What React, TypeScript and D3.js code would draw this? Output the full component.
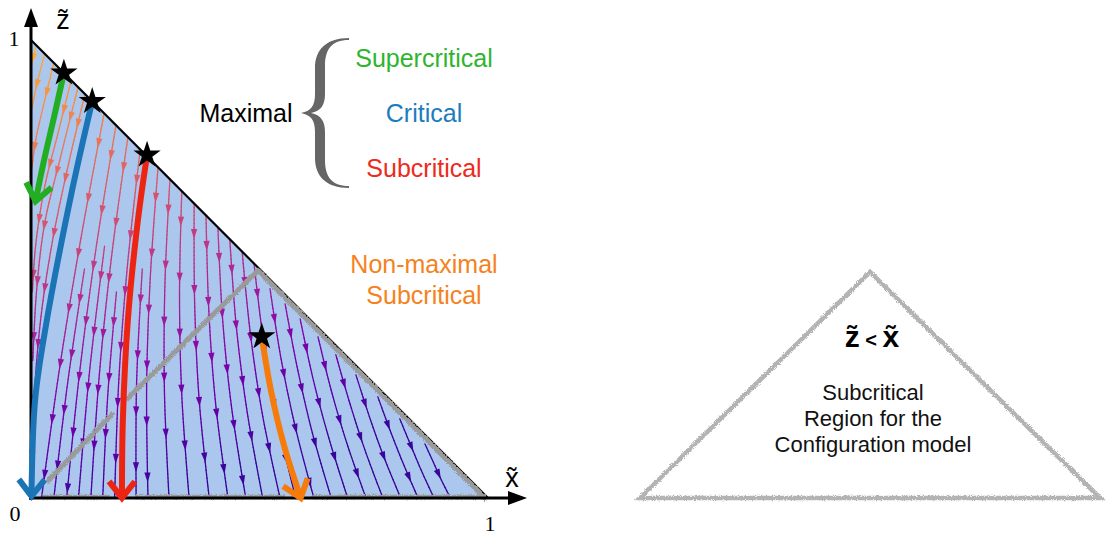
import React, { useEffect, useRef } from "react";
import * as d3 from "d3";

type Pt = [number, number];

// thin streamlines in (x~, z~) units, top point first
const streamlines: Pt[][] = [
  [[0.012, 0.988], [0.004, 0.958], [0.0, 0.94]],
  [[0.03, 0.97], [0.012, 0.9], [0.002, 0.85]],
  [[0.05, 0.95], [0.028, 0.86], [0.01, 0.78], [0.002, 0.72]],
  [[0.088, 0.912], [0.06, 0.8], [0.03, 0.68], [0.01, 0.55], [0.003, 0.45]],
  [[0.103, 0.897], [0.066, 0.75], [0.03, 0.6], [0.012, 0.45], [0.004, 0.3]],
  [[0.118, 0.882], [0.08, 0.72], [0.045, 0.55], [0.02, 0.38], [0.006, 0.2], [0.002, 0.05]],
  [[0.16, 0.84], [0.108, 0.56], [0.062, 0.28], [0.023, 0]],
  [[0.186, 0.814], [0.142, 0.543], [0.106, 0.271], [0.078, 0]],
  [[0.212, 0.788], [0.176, 0.525], [0.149, 0.263], [0.131, 0]],
  [[0.239, 0.761], [0.211, 0.507], [0.192, 0.254], [0.183, 0]],
  [[0.278, 0.722], [0.261, 0.481], [0.253, 0.241], [0.256, 0]],
  [[0.304, 0.696], [0.293, 0.464], [0.292, 0.232], [0.302, 0]],
  [[0.33, 0.67], [0.325, 0.447], [0.33, 0.223], [0.346, 0]],
  [[0.357, 0.643], [0.358, 0.429], [0.368, 0.214], [0.39, 0]],
  [[0.383, 0.617], [0.389, 0.411], [0.404, 0.206], [0.431, 0]],
  [[0.409, 0.591], [0.419, 0.394], [0.439, 0.197], [0.47, 0]],
  [[0.435, 0.565], [0.449, 0.377], [0.473, 0.188], [0.507, 0]],
  [[0.462, 0.538], [0.48, 0.359], [0.507, 0.179], [0.545, 0]],
  [[0.488, 0.512], [0.509, 0.341], [0.539, 0.171], [0.579, 0]],
  [[0.523, 0.457], [0.547, 0.305], [0.579, 0.152], [0.619, 0]],
  [[0.556, 0.424], [0.583, 0.283], [0.616, 0.141], [0.657, 0]],
  [[0.589, 0.391], [0.617, 0.261], [0.652, 0.13], [0.693, 0]],
  [[0.628, 0.352], [0.657, 0.235], [0.692, 0.117], [0.733, 0]],
  [[0.667, 0.313], [0.697, 0.209], [0.731, 0.104], [0.77, 0]],
  [[0.711, 0.269], [0.74, 0.179], [0.772, 0.09], [0.809, 0]],
  [[0.759, 0.221], [0.786, 0.147], [0.815, 0.074], [0.847, 0]],
  [[0.807, 0.173], [0.831, 0.115], [0.855, 0.058], [0.882, 0]],
  [[0.862, 0.118], [0.88, 0.079], [0.898, 0.039], [0.918, 0]],
  // lines seeded inside the field
  [[0.117, 0.5], [0.08, 0.25], [0.05, 0]],
  [[0.161, 0.55], [0.128, 0.275], [0.104, 0]],
  [[0.187, 0.45], [0.168, 0.225], [0.157, 0]],
  [[0.2435, 0.5], [0.231, 0.25], [0.23, 0]],
];

// highlighted trajectories, each starts at a star
const thickColors = ["#22ad22", "#1a74b6", "#ee2412", "#f57b0a"];
const thickPaths: Pt[][] = [
  [[0.072, 0.928], [0.05, 0.83], [0.028, 0.735], [0.01, 0.648]],
  [[0.134, 0.866], [0.09, 0.672], [0.031, 0.367], [0.009, 0.214], [0.001, 0.004]],
  [[0.254, 0.749], [0.234, 0.607], [0.212, 0.389], [0.201, 0.17], [0.199, 0.0]],
  [[0.505, 0.352], [0.525, 0.235], [0.553, 0.117], [0.59, 0.0]],
];

// grey region boundaries
const criticalLine: Pt[][] = [
  [[0.035, 0.035], [0.18, 0.186]],
  [[0.208, 0.214], [0.5, 0.5]],
];
const boundaryLine: Pt[] = [[0.5, 0.5], [1, 0]];
const bottomSegments: Pt[] = [[0.025, 0.172], [0.228, 0.556], [0.615, 0.995]];

const maximalLabels = ["Supercritical", "Critical", "Subcritical"];
const maximalColors = ["#2db52d", "#1c7cc0", "#ee2a1c"];
const nonMaximalLabels = ["Non-maximal", "Subcritical"];
const regionLines = ["Subcritical", "Region for the", "Configuration model"];
const tickLabels = ["0", "1"];

const W = 1108;
const H = 535;
const SANS = "'Liberation Sans', Arial, Helvetica, sans-serif";
const SERIF = "'Liberation Serif', 'Times New Roman', serif";

export default function App() {
  const ref = useRef<SVGSVGElement>(null);

  useEffect(() => {
    if (!ref.current) return;
    const svg = d3.select(ref.current);
    svg.selectAll("*").remove();

    const x = d3.scaleLinear().domain([0, 1]).range([31, 488]);
    const z = d3.scaleLinear().domain([0, 1]).range([498, 40]);

    const defs = svg.append("defs");
    const rough = defs
      .append("filter")
      .attr("id", "rough")
      .attr("filterUnits", "userSpaceOnUse")
      .attr("x", 0)
      .attr("y", 0)
      .attr("width", W)
      .attr("height", H);
    rough
      .append("feTurbulence")
      .attr("type", "fractalNoise")
      .attr("baseFrequency", 1.1)
      .attr("numOctaves", 2)
      .attr("seed", 3)
      .attr("result", "noise");
    rough
      .append("feDisplacementMap")
      .attr("in", "SourceGraphic")
      .attr("in2", "noise")
      .attr("scale", 4)
      .attr("xChannelSelector", "R")
      .attr("yChannelSelector", "G");

    const line = d3
      .line<Pt>()
      .x((d) => x(d[0]))
      .y((d) => z(d[1]))
      .curve(d3.curveCatmullRom.alpha(0.5));
    const straight = d3
      .line<Pt>()
      .x((d) => x(d[0]))
      .y((d) => z(d[1]));

    // blue feasible triangle
    const tri: Pt[] = [[0, 1], [0, 0], [1, 0]];
    svg.append("path").attr("d", straight(tri) + "Z").attr("fill", "#abc7ee");

    const plasmaAt = (px: number, py: number) => {
      const X = x.invert(px);
      const Z = z.invert(py);
      const t = Math.max(0.08, Math.min(0.84, 0.12 + 0.72 * Z - 0.2 * X));
      return d3.interpolatePlasma(t);
    };

    // streamlines, coloured piecewise
    const gStream = svg.append("g");
    const gArrows = svg.append("g");
    streamlines.forEach((pts) => {
      const tmp = gStream.append("path").attr("d", line(pts)!).attr("fill", "none");
      const node = tmp.node() as SVGPathElement;
      const L = node.getTotalLength();
      const n = Math.max(2, Math.ceil(L / 4));
      const samples = d3.range(n + 1).map((i) => node.getPointAtLength((L * i) / n));
      for (let i = 0; i < n; i++) {
        const a = samples[i];
        const b = samples[i + 1];
        gStream
          .append("line")
          .attr("x1", a.x)
          .attr("y1", a.y)
          .attr("x2", b.x)
          .attr("y2", b.y)
          .attr("stroke", plasmaAt((a.x + b.x) / 2, (a.y + b.y) / 2))
          .attr("stroke-width", 1.3)
          .attr("stroke-linecap", "round");
      }
      const spots = L < 70 ? [L * 0.55] : d3.range(30, L - 10, 56);
      spots.forEach((s) => {
        const p0 = node.getPointAtLength(Math.max(0, s - 2));
        const p1 = node.getPointAtLength(Math.min(L, s + 2));
        const dx = p1.x - p0.x;
        const dy = p1.y - p0.y;
        const len = Math.hypot(dx, dy) || 1;
        const ux = dx / len;
        const uy = dy / len;
        const c = node.getPointAtLength(s);
        const tip = [c.x + ux * 5.5, c.y + uy * 5.5];
        const b1 = [c.x - ux * 4.5 - uy * 3.1, c.y - uy * 4.5 + ux * 3.1];
        const b2 = [c.x - ux * 4.5 + uy * 3.1, c.y - uy * 4.5 - ux * 3.1];
        gArrows
          .append("path")
          .attr("d", `M${tip}L${b1}L${b2}Z`)
          .attr("fill", plasmaAt(c.x, c.y));
      });
      tmp.remove();
    });

    // black maximal boundary
    svg
      .append("path")
      .attr("d", straight([[0, 1], [1, 0]])!)
      .attr("stroke", "#000")
      .attr("stroke-width", 2.2)
      .attr("fill", "none");

    // grey boundaries (rough pencil look)
    const gGrey = svg.append("g").attr("filter", "url(#rough)");
    criticalLine.forEach((seg) => {
      gGrey
        .append("path")
        .attr("d", straight(seg)!)
        .attr("stroke", "#9a9a9a")
        .attr("stroke-width", 5)
        .attr("fill", "none");
    });
    gGrey
      .append("path")
      .attr("d", straight(boundaryLine)!)
      .attr("transform", "translate(-1.5,1.5)")
      .attr("stroke", "#9a9a9a")
      .attr("stroke-width", 5)
      .attr("fill", "none");

    // axes
    svg
      .append("line")
      .attr("x1", x(0))
      .attr("y1", z(0) + 2)
      .attr("x2", x(0))
      .attr("y2", 24)
      .attr("stroke", "#000")
      .attr("stroke-width", 3);
    svg
      .append("path")
      .attr("d", `M${x(0)},8L${x(0) - 7},27L${x(0) + 7},27Z`)
      .attr("fill", "#000");
    svg
      .append("line")
      .attr("x1", x(0) - 2)
      .attr("y1", z(0))
      .attr("x2", 512)
      .attr("y2", z(0))
      .attr("stroke", "#000")
      .attr("stroke-width", 3);
    svg
      .append("path")
      .attr("d", `M527,${z(0)}L508,${z(0) - 7}L508,${z(0) + 7}Z`)
      .attr("fill", "#000");

    bottomSegments.forEach((seg) => {
      gGrey
        .append("line")
        .attr("x1", x(seg[0]))
        .attr("x2", x(seg[1]))
        .attr("y1", z(0) - 1)
        .attr("y2", z(0) - 1)
        .attr("stroke", "#9a9a9a")
        .attr("stroke-width", 4.5);
    });

    // thick trajectories with chevrons
    thickPaths.forEach((pts, i) => {
      const p = svg
        .append("path")
        .attr("d", line(pts)!)
        .attr("fill", "none")
        .attr("stroke", thickColors[i])
        .attr("stroke-width", 6);
      const node = p.node() as SVGPathElement;
      const L = node.getTotalLength();
      const end = node.getPointAtLength(L);
      const prev = node.getPointAtLength(L - 8);
      const ang = Math.atan2(end.y - prev.y, end.x - prev.x);
      const arm = 21;
      const spread = (38 * Math.PI) / 180;
      const a1 = [end.x - arm * Math.cos(ang - spread), end.y - arm * Math.sin(ang - spread)];
      const a2 = [end.x - arm * Math.cos(ang + spread), end.y - arm * Math.sin(ang + spread)];
      svg
        .append("path")
        .attr("d", `M${a1}L${end.x},${end.y}L${a2}`)
        .attr("fill", "none")
        .attr("stroke", thickColors[i])
        .attr("stroke-width", 6)
        .attr("stroke-linejoin", "miter");
    });

    // stars at the start of each highlighted trajectory
    const star = d3.symbol(d3.symbolStar, 230);
    thickPaths.forEach((pts) => {
      svg
        .append("path")
        .attr("d", star()!)
        .attr("transform", `translate(${x(pts[0][0])},${z(pts[0][1])})`)
        .attr("fill", "#000");
    });

    // tick labels and axis names
    svg
      .append("text")
      .attr("x", 14)
      .attr("y", 46)
      .attr("text-anchor", "middle")
      .attr("font-family", SERIF)
      .attr("font-size", 22)
      .text(tickLabels[1]);
    svg
      .append("text")
      .attr("x", 15)
      .attr("y", 521)
      .attr("text-anchor", "middle")
      .attr("font-family", SERIF)
      .attr("font-size", 22)
      .text(tickLabels[0]);
    svg
      .append("text")
      .attr("x", 490)
      .attr("y", 531)
      .attr("text-anchor", "middle")
      .attr("font-family", SERIF)
      .attr("font-size", 22)
      .text(tickLabels[1]);
    svg
      .append("text")
      .attr("x", 63)
      .attr("y", 29)
      .attr("text-anchor", "middle")
      .attr("font-family", SANS)
      .attr("font-size", 27)
      .text("z\u0303");
    svg
      .append("text")
      .attr("x", 512)
      .attr("y", 487)
      .attr("text-anchor", "middle")
      .attr("font-family", SANS)
      .attr("font-size", 27)
      .text("x\u0303");

    // legend-like annotation
    const rowY = [67, 122, 177];
    maximalLabels.forEach((t, i) => {
      svg
        .append("text")
        .attr("x", 424)
        .attr("y", rowY[i])
        .attr("text-anchor", "middle")
        .attr("font-family", SANS)
        .attr("font-size", 25)
        .attr("fill", maximalColors[i])
        .text(t);
    });
    svg
      .append("text")
      .attr("x", 246)
      .attr("y", 122)
      .attr("text-anchor", "middle")
      .attr("font-family", SANS)
      .attr("font-size", 25)
      .attr("fill", "#000")
      .text("Maximal");
    // tapered curly brace
    svg
      .append("path")
      .attr(
        "d",
        "M349,38 C326,38 315,50 315,68 L315,94 C315,106 311,111 301,113 C311,115 315,120 315,132 L315,158 C315,176 326,188 349,188 " +
          "L349,186 C331,186 325,176 325,160 L325,132 C325,121 321,115 311,113 C321,111 325,105 325,94 L325,66 C325,50 331,40 349,40 Z"
      )
      .attr("fill", "#666");
    nonMaximalLabels.forEach((t, i) => {
      svg
        .append("text")
        .attr("x", 424)
        .attr("y", 273 + i * 31)
        .attr("text-anchor", "middle")
        .attr("font-family", SANS)
        .attr("font-size", 25)
        .attr("fill", "#f58220")
        .text(t);
    });

    // right panel: configuration model region
    const xr = d3.scaleLinear().domain([0, 1]).range([640, 1100]);
    const zr = d3.scaleLinear().domain([0, 1]).range([498, 272]);
    const tri2: Pt[] = [[0, 0], [0.5, 1], [1, 0]];
    svg
      .append("path")
      .attr(
        "d",
        d3
          .line<Pt>()
          .x((d) => xr(d[0]))
          .y((d) => zr(d[1]))(tri2) + "Z"
      )
      .attr("fill", "none")
      .attr("stroke", "#b3b3b3")
      .attr("stroke-width", 4.5)
      .attr("stroke-linejoin", "miter")
      .attr("filter", "url(#rough)");

    const cond = svg
      .append("text")
      .attr("x", 872)
      .attr("y", 347)
      .attr("text-anchor", "middle")
      .attr("font-family", SANS)
      .attr("font-weight", "bold")
      .attr("font-size", 30);
    cond.append("tspan").text("z\u0303");
    cond.append("tspan").attr("font-size", 20).text(" < ");
    cond.append("tspan").text("x\u0303");

    regionLines.forEach((t, i) => {
      svg
        .append("text")
        .attr("x", 873)
        .attr("y", 400 + i * 26)
        .attr("text-anchor", "middle")
        .attr("font-family", SANS)
        .attr("font-size", 22)
        .attr("fill", "#111")
        .text(t);
    });
  }, []);

  return (
    <svg
      ref={ref}
      width={W}
      height={H}
      style={{ position: "absolute", left: 0, top: 0, background: "#fff" }}
    />
  );
}
